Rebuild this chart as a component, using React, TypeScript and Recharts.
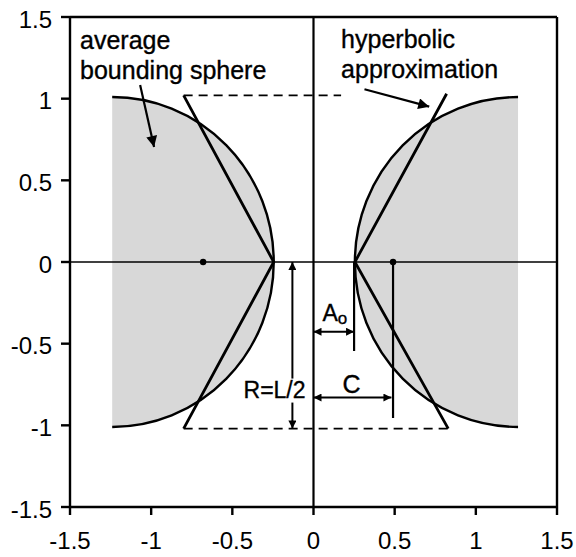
import React from "react";
import {
  ComposedChart,
  XAxis,
  YAxis,
  Scatter,
  ReferenceArea,
  ReferenceLine,
  ReferenceDot,
} from "recharts";

type Pt = { x: number; y: number };

const FONT = '"Liberation Sans", Arial, Helvetica, sans-serif';

const axisTicks = [-1.5, -1, -0.5, 0, 0.5, 1, 1.5];

// gray half spheres: flat edge at centerX, arc reaching tipX
const sphereLeft = { centerX: -1.24, tipX: -0.245, halfHeight: 1.01 };
const sphereRight = { centerX: 1.26, tipX: 0.255, halfHeight: 1.01 };

const hyperbolaLeft: Pt[] = [
  { x: -0.8, y: 1.02 },
  { x: -0.245, y: 0 },
  { x: -0.8, y: -1.02 },
];
const hyperbolaRight: Pt[] = [
  { x: 0.82, y: 1.03 },
  { x: 0.255, y: 0 },
  { x: 0.83, y: -1.02 },
];

const centerDots: Pt[] = [
  { x: -0.68, y: 0 },
  { x: 0.49, y: 0 },
];

const dashedSegments: Pt[][] = [
  [{ x: -0.8, y: 1.02 }, { x: 0.17, y: 1.02 }],
  [{ x: -0.8, y: -1.02 }, { x: 0.83, y: -1.02 }],
];

const plainSegments: Pt[][] = [
  [{ x: 0.25, y: 0 }, { x: 0.25, y: -0.545 }],
  [{ x: 0.49, y: 0 }, { x: 0.49, y: -0.955 }],
];

// double-headed dimension arrows: A0, C, R=L/2
const dimensionArrows: Pt[][] = [
  [{ x: 0, y: -0.427 }, { x: 0.25, y: -0.427 }],
  [{ x: 0, y: -0.83 }, { x: 0.48, y: -0.83 }],
  [{ x: -0.13, y: 0 }, { x: -0.13, y: -1.02 }],
];

// single-headed pointers from the text labels
const pointerArrows: Pt[][] = [
  [{ x: -1.068, y: 1.084 }, { x: -0.982, y: 0.704 }],
  [{ x: 0.314, y: 1.058 }, { x: 0.713, y: 0.951 }],
];

const textLabels = [
  { x: -1.438, y: 1.304, text: "average", anchor: "start" },
  { x: -1.438, y: 1.12, text: "bounding sphere", anchor: "start" },
  { x: 0.17, y: 1.309, text: "hyperbolic", anchor: "start" },
  { x: 0.17, y: 1.125, text: "approximation", anchor: "start" },
  { x: 0.235, y: -0.8, text: "C", anchor: "middle" },
];

const rLabel = { x: -0.24, y: -0.83, text: "R=L/2" };
const aLabel = { x: 0.055, y: -0.36, main: "A", sub: "o" };

const halfSphere = (flatOnLeft: boolean) => (p: any) => {
  const { x, y, width: w, height: h } = p;
  const fx = flatOnLeft ? x : x + w;
  const sweep = flatOnLeft ? 1 : 0;
  const arc = `M${fx},${y} A${w},${h / 2} 0 0 ${sweep} ${fx},${y + h}`;
  return (
    <g>
      <path d={arc + " Z"} fill="#d8d8d8" stroke="none" />
      <path d={arc} fill="none" stroke="#000" strokeWidth={2.4} />
    </g>
  );
};

const arrowShape = (start: string | undefined, end: string, sw: number) => (p: any) => (
  <line
    x1={p.x1}
    y1={p.y1}
    x2={p.x2}
    y2={p.y2}
    stroke="#000"
    strokeWidth={sw}
    markerStart={start}
    markerEnd={end}
  />
);

const textStyle = { stroke: "#000", strokeWidth: 0.35 };

export default function App() {
  return (
    <div style={{ position: "absolute", left: 0, top: 0, width: 576, height: 557, background: "#fff" }}>
      <svg width={0} height={0} style={{ position: "absolute" }}>
        <defs>
          <marker id="dimEnd" viewBox="0 0 10 10" refX={10} refY={5} markerUnits="userSpaceOnUse" markerWidth={10} markerHeight={8} orient="auto">
            <path d="M0,0 L10,5 L0,10 z" fill="#000" />
          </marker>
          <marker id="dimStart" viewBox="0 0 10 10" refX={0} refY={5} markerUnits="userSpaceOnUse" markerWidth={10} markerHeight={8} orient="auto">
            <path d="M10,0 L0,5 L10,10 z" fill="#000" />
          </marker>
          <marker id="ptrEnd" viewBox="0 0 10 10" refX={10} refY={5} markerUnits="userSpaceOnUse" markerWidth={14} markerHeight={11} orient="auto">
            <path d="M0,0 L10,5 L0,10 z" fill="#000" />
          </marker>
        </defs>
      </svg>
      <ComposedChart
        width={576}
        height={557}
        margin={{ top: 17, right: 19, left: 0, bottom: 0 }}
        style={{ fontFamily: FONT }}
      >
        <XAxis
          type="number"
          dataKey="x"
          domain={[-1.5, 1.5]}
          ticks={axisTicks}
          interval={0}
          height={50}
          tickSize={8}
          tickMargin={17}
          axisLine={{ stroke: "#000", strokeWidth: 2.4 }}
          tickLine={{ stroke: "#000", strokeWidth: 2.4 }}
          tick={{ fill: "#000", fontSize: 24, fontFamily: FONT }}
        />
        <YAxis
          type="number"
          dataKey="y"
          domain={[-1.5, 1.5]}
          ticks={axisTicks}
          interval={0}
          width={70}
          tickSize={9}
          tickMargin={9}
          axisLine={{ stroke: "#000", strokeWidth: 2.4 }}
          tickLine={{ stroke: "#000", strokeWidth: 2.4 }}
          tick={{ fill: "#000", fontSize: 24, fontFamily: FONT, dy: 2 }}
        />

        <ReferenceArea
          x1={sphereLeft.centerX}
          x2={sphereLeft.tipX}
          y1={-sphereLeft.halfHeight}
          y2={sphereLeft.halfHeight}
          shape={halfSphere(true)}
        />
        <ReferenceArea
          x1={sphereRight.tipX}
          x2={sphereRight.centerX}
          y1={-sphereRight.halfHeight}
          y2={sphereRight.halfHeight}
          shape={halfSphere(false)}
        />

        {/* frame and zero lines */}
        <ReferenceLine y={1.5} stroke="#000" strokeWidth={2.4} />
        <ReferenceLine x={1.5} stroke="#000" strokeWidth={2.4} />
        <ReferenceLine x={0} stroke="#000" strokeWidth={2.2} />
        <ReferenceLine y={0} stroke="#000" strokeWidth={1.6} />

        {dashedSegments.map((s, i) => (
          <ReferenceLine key={"d" + i} segment={s} stroke="#000" strokeWidth={1.6} strokeDasharray="9 6" />
        ))}
        {plainSegments.map((s, i) => (
          <ReferenceLine key={"p" + i} segment={s} stroke="#000" strokeWidth={2.2} />
        ))}
        {dimensionArrows.map((s, i) => (
          <ReferenceLine key={"a" + i} segment={s} shape={arrowShape("url(#dimStart)", "url(#dimEnd)", 2)} />
        ))}
        {pointerArrows.map((s, i) => (
          <ReferenceLine key={"q" + i} segment={s} shape={arrowShape(undefined, "url(#ptrEnd)", 2.2)} />
        ))}

        <Scatter
          data={hyperbolaLeft}
          fill="#000"
          line={{ stroke: "#000", strokeWidth: 2.8 }}
          shape={() => <g />}
          isAnimationActive={false}
        />
        <Scatter
          data={hyperbolaRight}
          fill="#000"
          line={{ stroke: "#000", strokeWidth: 2.8 }}
          shape={() => <g />}
          isAnimationActive={false}
        />
        <Scatter
          data={centerDots}
          fill="#000"
          shape={(p: any) => <circle cx={p.cx} cy={p.cy} r={3.2} fill="#000" />}
          isAnimationActive={false}
        />

        {textLabels.map((l, i) => (
          <ReferenceDot
            key={"t" + i}
            x={l.x}
            y={l.y}
            shape={(p: any) => (
              <text x={p.cx} y={p.cy} fontSize={25} fontFamily={FONT} fill="#000" textAnchor={l.anchor as any} style={textStyle}>
                {l.text}
              </text>
            )}
          />
        ))}
        <ReferenceDot
          x={rLabel.x}
          y={rLabel.y}
          shape={(p: any) => (
            <g>
              <rect x={p.cx - 33} y={p.cy - 19} width={66} height={24} fill="#fff" />
              <text x={p.cx} y={p.cy} fontSize={23} fontFamily={FONT} fill="#000" textAnchor="middle" style={textStyle}>
                {rLabel.text}
              </text>
            </g>
          )}
        />
        <ReferenceDot
          x={aLabel.x}
          y={aLabel.y}
          shape={(p: any) => (
            <text x={p.cx} y={p.cy} fontSize={23} fontFamily={FONT} fill="#000" style={textStyle}>
              {aLabel.main}
              <tspan fontSize={17} dy={3}>
                {aLabel.sub}
              </tspan>
            </text>
          )}
        />
      </ComposedChart>
    </div>
  );
}
